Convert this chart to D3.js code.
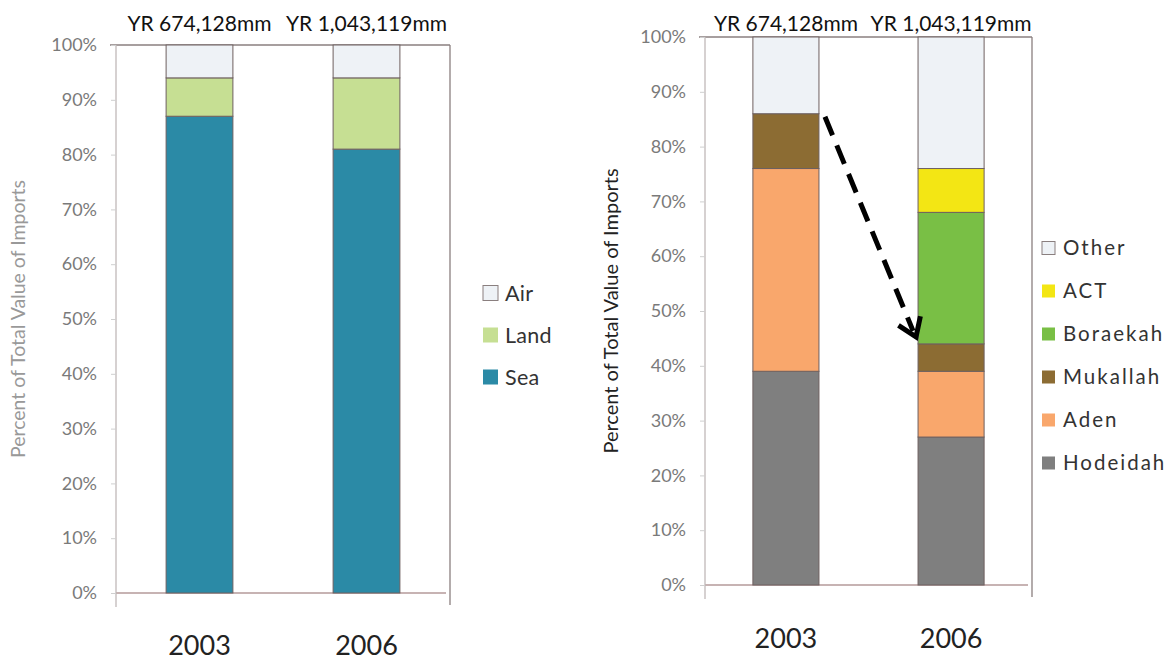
<!DOCTYPE html>
<html><head><meta charset="utf-8">
<script src="https://cdn.jsdelivr.net/npm/d3@7"></script>
<style>body{margin:0;background:#fff}svg{display:block}</style>
</head><body>
<svg id="c" width="1171" height="662"></svg>
<script>
// ---- data ----
const years = ["2003", "2006"];
const totals = ["YR 674,128mm", "YR 1,043,119mm"];
const yTicks = [0, 10, 20, 30, 40, 50, 60, 70, 80, 90, 100];

const modeSeries = ["Sea", "Land", "Air"];
const sea  = [87, 81];
const land = [7, 13];
const air  = [6, 6];

const portSeries = ["Hodeidah", "Aden", "Mukallah", "Boraekah", "ACT", "Other"];
const hodeidah = [39, 27];
const aden     = [37, 12];
const mukallah = [10, 5];
const boraekah = [0, 24];
const act      = [0, 8];
const other    = [14, 24];

const modeColors = {Sea: "#2b8aa6", Land: "#c6df93", Air: "#eef2f6"};
const portColors = {Hodeidah: "#7f7f7f", Aden: "#f9a76c", Mukallah: "#8c6c33", Boraekah: "#79bf45", ACT: "#f3e614", Other: "#eef2f6"};

const svg = d3.select("#c");
const FONT = "Lato, 'Open Sans', sans-serif";

function panel(opt) {
  const g = svg.append("g");
  const y = d3.scaleLinear().domain([0, 100]).range([opt.y0, opt.y1]);
  const x = d3.scaleBand().domain(years).range([opt.xL, opt.xR]).paddingInner(opt.pi).paddingOuter(opt.po);
  // frame lines
  g.append("line").attr("x1", opt.xA - 6).attr("x2", opt.xF).attr("y1", y(100)).attr("y2", y(100)).attr("stroke", "#8a7f7f").attr("stroke-width", 1.3);
  g.append("line").attr("x1", opt.xA).attr("x2", opt.xF - 4).attr("y1", y(0)).attr("y2", y(0)).attr("stroke", "#b49a9a").attr("stroke-width", 1.3);
  g.append("line").attr("x1", opt.xF).attr("x2", opt.xF).attr("y1", y(100)).attr("y2", y(0) + 12).attr("stroke", "#8a7f7f").attr("stroke-width", 1.3);
  // axis
  const ax = d3.axisLeft(y).tickValues(yTicks).tickFormat(d => d + "%").tickSize(5).tickPadding(14);
  const ag = g.append("g").attr("transform", `translate(${opt.xA},0)`).call(ax);
  ag.select(".domain").attr("d", `M0,${y(100)}V${y(0) + 14}`).attr("stroke", "#c0b8b8").attr("stroke-width", 1.3);
  ag.selectAll(".tick line").attr("stroke", "#cfcfcf");
  ag.selectAll(".tick text").attr("font-family", FONT).attr("font-size", 18).attr("fill", "#7a7a7a");
  // stacks
  const rows = years.map((yr, i) => {
    const r = {year: yr};
    opt.series.forEach((s, k) => r[s] = opt.values[k][i]);
    return r;
  });
  const stack = d3.stack().keys(opt.series)(rows);
  stack.forEach(layer => {
    g.selectAll(null).data(layer.filter(d => d[1] - d[0] > 0)).enter().append("rect")
      .attr("x", d => x(d.data.year)).attr("width", x.bandwidth())
      .attr("y", d => y(d[1])).attr("height", d => y(d[0]) - y(d[1]))
      .attr("fill", opt.colors[layer.key]).attr("stroke", "#6e6060").attr("stroke-width", 1);
  });
  // top labels
  g.selectAll(null).data(years).enter().append("text")
    .attr("x", (d) => x(d) + x.bandwidth() / 2).attr("y", 31).attr("text-anchor", "middle")
    .attr("font-family", FONT).attr("font-size", 21).attr("fill", "#111")
    .text((d, i) => totals[i]);
  // year labels
  g.selectAll(null).data(years).enter().append("text")
    .attr("x", d => x(d) + x.bandwidth() / 2).attr("y", opt.yearY).attr("text-anchor", "middle")
    .attr("font-family", FONT).attr("font-size", 27).attr("fill", "#222")
    .text(d => d);
  // y title
  g.append("text").attr("transform", `translate(${opt.titleX},${(y(0) + y(100)) / 2}) rotate(-90)`)
    .attr("text-anchor", "middle").attr("font-family", FONT).attr("font-size", opt.titleSize)
    .attr("fill", opt.titleColor).text("Percent of Total Value of Imports");
  // legend
  const leg = opt.series.slice().reverse();
  const lg = g.selectAll(null).data(leg).enter().append("g")
    .attr("transform", (d, i) => `translate(${opt.legX},${opt.legY + i * opt.legStep})`);
  lg.append("rect").attr("x", 0).attr("y", -opt.sq / 2).attr("width", opt.sq).attr("height", opt.sq)
    .attr("fill", d => opt.colors[d]).attr("stroke", d => d === "Air" || d === "Other" ? "#8a7f7f" : "none").attr("stroke-width", 1);
  lg.append("text").attr("x", opt.legTx).attr("y", 0).attr("dy", "0.35em")
    .attr("font-family", FONT).attr("font-size", opt.legSize).attr("letter-spacing", opt.legLs)
    .attr("fill", "#333").text(d => d);
  return {x, y, g};
}

panel({y0: 593, y1: 45, xA: 116, xF: 450, xL: 116, xR: 450, pi: 0.6, po: 0.3,
  series: modeSeries, values: [sea, land, air], colors: modeColors,
  yearY: 655, titleX: 25, titleSize: 19.5, titleColor: "#999",
  legX: 483, legY: 293, legStep: 42, sq: 15, legTx: 22, legSize: 21.5, legLs: 0.3});

const right = panel({y0: 585, y1: 37, xA: 705, xF: 1032, xL: 705, xR: 1032, pi: 0.6, po: 0.29,
  series: portSeries, values: [hodeidah, aden, mukallah, boraekah, act, other], colors: portColors,
  yearY: 648, titleX: 618, titleSize: 20, titleColor: "#222",
  legX: 1042, legY: 248, legStep: 43, sq: 13, legTx: 21, legSize: 20.5, legLs: 2});

// dashed arrow from 2003 Mukallah top toward 2006 Mukallah top
const rx = right.x, ry = right.y;
const x1 = rx("2003") + rx.bandwidth() + 6, y1 = ry(86) + 3;
const x2 = rx("2006") - 2, y2 = ry(44) - 7;
right.g.append("line").attr("x1", x1).attr("y1", y1).attr("x2", x2 - 3).attr("y2", y2 - 6)
  .attr("stroke", "#000").attr("stroke-width", 5).attr("stroke-dasharray", "20,11");
const ang = Math.atan2(y2 - y1, x2 - x1);
const L = 21;
right.g.append("path")
  .attr("d", `M${x2 + L * Math.cos(ang + Math.PI - 0.6)},${y2 + L * Math.sin(ang + Math.PI - 0.6)}L${x2},${y2}L${x2 + L * Math.cos(ang + Math.PI + 0.6)},${y2 + L * Math.sin(ang + Math.PI + 0.6)}`)
  .attr("fill", "none").attr("stroke", "#000").attr("stroke-width", 5);
</script>
</body></html>
